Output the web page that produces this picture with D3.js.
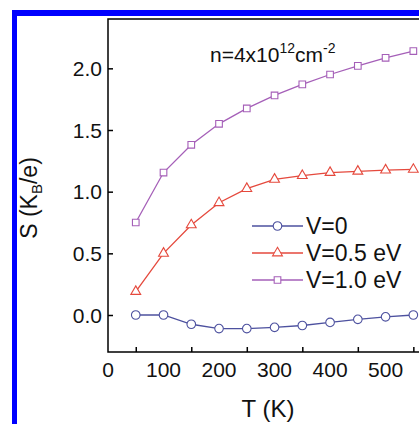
<!DOCTYPE html>
<html>
<head>
<meta charset="utf-8">
<script src="https://cdn.jsdelivr.net/npm/d3@7"></script>
<style>
body { margin: 0; background: #fff; }
svg { display: block; font-family: "Liberation Sans", Arial, sans-serif; }
</style>
</head>
<body>
<div id="chart"></div>
<script>
// data
var temps = [50, 100, 150, 200, 250, 300, 350, 400, 450, 500, 550];
var sV0 = [0.0, 0.0, -0.075, -0.11, -0.11, -0.10, -0.085, -0.06, -0.035, -0.015, 0.0];
var sV05 = [0.19, 0.50, 0.73, 0.91, 1.025, 1.10, 1.13, 1.155, 1.165, 1.175, 1.18];
var sV10 = [0.75, 1.155, 1.38, 1.55, 1.675, 1.78, 1.87, 1.95, 2.02, 2.085, 2.14];
var seriesNames = ["V=0", "V=0.5 eV", "V=1.0 eV"];
var xTickLabels = [0, 100, 200, 300, 400, 500];
var xTickMarks = [50, 150, 250, 350, 450, 550];
var yTicks = [0.0, 0.5, 1.0, 1.5, 2.0];

var W = 419, H = 424;
var colors = ["#4d519f", "#e5493d", "#a55fb8"];
var shapes = [d3.symbolCircle, d3.symbolTriangle, d3.symbolSquare];
var sizes = [58, 42, 44];

var svg = d3.select("#chart").append("svg")
  .attr("width", W).attr("height", H);

svg.append("rect").attr("width", W).attr("height", H).attr("fill", "#fff");

// blue frame (top + left)
svg.append("rect").attr("x", 12).attr("y", 10).attr("width", W - 12).attr("height", 6).attr("fill", "#0000ff");
svg.append("rect").attr("x", 12).attr("y", 10).attr("width", 5).attr("height", H - 10).attr("fill", "#0000ff");

var x = d3.scaleLinear().domain([0, 580]).range([108, 430]);
var y = d3.scaleLinear().domain([-0.3, 2.4]).range([352, 19]);

// frame
svg.append("path")
  .attr("d", "M" + x(580) + "," + y(2.4) + "H" + x(0) + "V" + y(-0.3) + "H" + x(580))
  .attr("fill", "none").attr("stroke", "#000").attr("stroke-width", 1.5);

// x axis: inward ticks at the 50s, labels at hundreds
var gx = svg.append("g").attr("transform", "translate(0," + y(-0.3) + ")");
gx.call(d3.axisTop(x).tickValues(xTickMarks).tickSize(5).tickFormat(""))
  .call(function(g) { g.select(".domain").remove(); })
  .selectAll("line").attr("stroke-width", 1.5);
gx.selectAll(".lbl").data(xTickLabels).enter().append("text")
  .attr("x", function(d) { return x(d); })
  .attr("y", 25)
  .attr("text-anchor", "middle")
  .attr("font-size", 21)
  .attr("fill", "#111")
  .text(function(d) { return d; });

// y axis
var gy = svg.append("g").attr("transform", "translate(" + x(0) + ",0)");
gy.call(d3.axisRight(y).tickValues(yTicks).tickSize(5).tickFormat(""))
  .call(function(g) { g.select(".domain").remove(); })
  .selectAll("line").attr("stroke-width", 1.5);
gy.selectAll(".lbl").data(yTicks).enter().append("text")
  .attr("x", -6)
  .attr("y", function(d) { return y(d); })
  .attr("dy", "0.36em")
  .attr("text-anchor", "end")
  .attr("font-size", 21)
  .attr("fill", "#111")
  .text(function(d) { return d3.format(".1f")(d); });

// axis titles
svg.append("text")
  .attr("x", 268).attr("y", 417)
  .attr("text-anchor", "middle")
  .attr("font-size", 24)
  .attr("fill", "#111")
  .text("T (K)");

var yl = svg.append("text")
  .attr("transform", "translate(37,198) rotate(-90)")
  .attr("text-anchor", "middle")
  .attr("font-size", 23)
  .attr("fill", "#111");
yl.append("tspan").text("S (K");
yl.append("tspan").attr("font-size", 15).attr("dy", 5).text("B");
yl.append("tspan").attr("dy", -5).text("/e)");

// annotation
var ann = svg.append("text")
  .attr("x", 210).attr("y", 62)
  .attr("font-size", 21)
  .attr("fill", "#111");
ann.append("tspan").text("n=4x10");
ann.append("tspan").attr("font-size", 14).attr("dy", -9).text("12");
ann.append("tspan").attr("dy", 9).text("cm");
ann.append("tspan").attr("font-size", 14).attr("dy", -9).text("-2");

// series
var all = [sV0, sV05, sV10];
var line = d3.line()
  .x(function(d) { return x(d[0]); })
  .y(function(d) { return y(d[1]); });

all.forEach(function(vals, i) {
  var pts = temps.map(function(t, k) { return [t, vals[k]]; });
  svg.append("path")
    .datum(pts)
    .attr("d", line)
    .attr("fill", "none")
    .attr("stroke", colors[i])
    .attr("stroke-width", 1.3);
  svg.selectAll(".m" + i).data(pts).enter().append("path")
    .attr("d", d3.symbol().type(shapes[i]).size(sizes[i]))
    .attr("transform", function(d) { return "translate(" + x(d[0]) + "," + y(d[1]) + ")"; })
    .attr("fill", "#fff")
    .attr("stroke", colors[i])
    .attr("stroke-width", 1.1);
});

// legend
var legY = [226, 253, 280];
seriesNames.forEach(function(name, i) {
  var g = svg.append("g").attr("transform", "translate(0," + legY[i] + ")");
  g.append("line").attr("x1", 252).attr("x2", 303).attr("y1", 0).attr("y2", 0)
    .attr("stroke", colors[i]).attr("stroke-width", 1.3);
  g.append("path")
    .attr("d", d3.symbol().type(shapes[i]).size(sizes[i]))
    .attr("transform", "translate(277.5,0)")
    .attr("fill", "#fff")
    .attr("stroke", colors[i])
    .attr("stroke-width", 1.1);
  g.append("text")
    .attr("x", 306).attr("y", 0).attr("dy", "0.36em")
    .attr("font-size", 23)
    .attr("fill", "#111")
    .text(name);
});
</script>
</body>
</html>
